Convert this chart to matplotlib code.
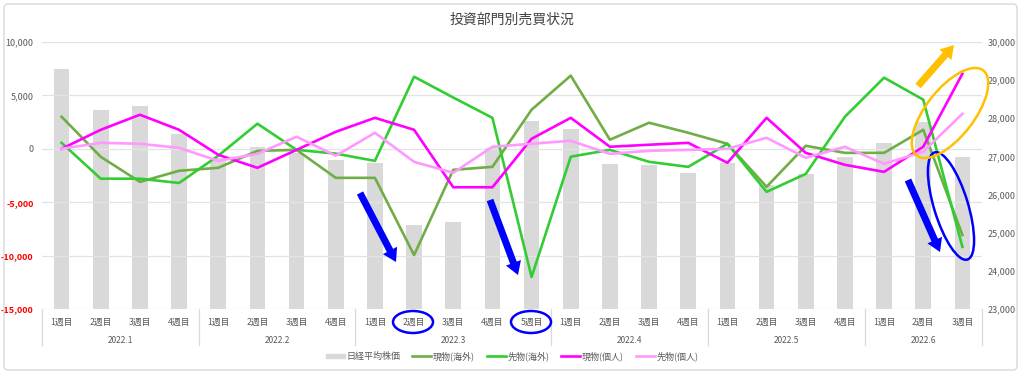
import matplotlib
matplotlib.use('Agg')
import matplotlib.pyplot as plt
from matplotlib.patches import Ellipse, FancyArrow, FancyBboxPatch, Patch
from matplotlib.transforms import Affine2D, blended_transform_factory

plt.rcParams['font.family'] = ['Noto Sans CJK JP', 'DejaVu Sans']

# --- data ---
months = ['2022.1', '2022.2', '2022.3', '2022.4', '2022.5', '2022.6']
weeks_per_month = [4, 4, 5, 4, 4, 3]
week_labels = [str(w) + '週目' for n in weeks_per_month for w in range(1, n + 1)]

nikkei = [29290, 28220, 28320, 27590, 26950, 27250, 27090, 26900, 26820, 25200,
          25280, 27220, 27930, 27720, 26800, 26770, 26560, 26820, 26250, 26530,
          26980, 27350, 27900, 26980]
genbutsu_kaigai = [3000, -750, -3100, -2060, -1780, -190, -100, -2720, -2720, -9950,
                   -1970, -1690, 3660, 6850, 850, 2440, 1500, 470, -3560, 280,
                   -380, -380, 1780, -8070]
sakimono_kaigai = [560, -2800, -2800, -3200, -650, 2350, -100, -450, -1130, 6750,
                   4800, 2900, -12000, -740, -100, -1220, -1690, 470, -4030, -2350,
                   3000, 6660, 4600, -9190]
genbutsu_kojin = [0, 1780, 3190, 1780, -560, -1780, -100, 1590, 2900, 1780,
                  -3600, -3600, 940, 2900, 190, 380, 560, -1310, 2900, -380,
                  -1500, -2160, 190, 7030]
sakimono_kojin = [0, 560, 470, 90, -1130, -470, 1130, -650, 1500, -1220,
                  -2250, 190, 470, 750, -470, -190, -100, 0, 1030, -840,
                  190, -1410, -280, 3280]

left_ticks = [-15000, -10000, -5000, 0, 5000, 10000]
right_ticks = [23000, 24000, 25000, 26000, 27000, 28000, 29000, 30000]

W, H = 1024, 376
fig = plt.figure(figsize=(W / 100, H / 100), dpi=100)
fig.patch.set_facecolor('white')

# pixel helper (top-left origin) for the hand drawn marks
pix = Affine2D().scale(1 / W, 1 / H) + fig.transFigure
def P(x, y):
    return (x, H - y)

# outer chart border
fig.patches.append(FancyBboxPatch(P(4, 370), 1013, 366, boxstyle='round,pad=0,rounding_size=4',
                                  transform=pix, fill=False, ec='#D9D9D9', lw=1.0))

ax_bar = fig.add_axes([42 / W, 1 - 309 / H, 940 / W, 267 / H])
ax = ax_bar.twinx()

x = list(range(len(week_labels)))
gray_txt = '#595959'

ax_bar.bar(x, nikkei, width=0.4, color='#D9D9D9', bottom=0)
ax_bar.set_ylim(23000, 30000)
ax_bar.set_yticks(right_ticks)
ax_bar.set_yticklabels(['{:,}'.format(v) for v in right_ticks])
ax_bar.yaxis.tick_right()
ax_bar.tick_params(axis='y', length=0, pad=4, labelsize=6.5, labelcolor=gray_txt)

ax.plot(x, genbutsu_kaigai, color='#70AD47', lw=1.9, label='現物(海外)')
ax.plot(x, sakimono_kaigai, color='#33CC33', lw=1.9, label='先物(海外)')
ax.plot(x, genbutsu_kojin, color='#FF00FF', lw=1.9, label='現物(個人)')
ax.plot(x, sakimono_kojin, color='#FF99FF', lw=1.9, label='先物(個人)')
ax.set_ylim(-15000, 10000)
ax.set_yticks(left_ticks)
ax.set_yticklabels(['{:,}'.format(v) for v in left_ticks])
ax.yaxis.tick_left()
ax.tick_params(axis='y', length=0, pad=6, labelsize=6.5)
for lab, v in zip(ax.get_yticklabels(), left_ticks):
    lab.set_color('#FF0000' if v < 0 else gray_txt)
    if v < 0:
        lab.set_fontweight('bold')
ax.grid(axis='y', color='#E3E3E3', lw=0.9)
ax.set_axisbelow(True)

for a in (ax, ax_bar):
    a.set_xlim(-0.5, len(x) - 0.5)
    a.set_xticks([])
    for s in a.spines.values():
        s.set_visible(False)

# two level category axis
tr = blended_transform_factory(ax.transData, ax.transAxes)
for i, lab in enumerate(week_labels):
    ax.text(i, -0.05, lab, transform=tr, ha='center', va='center', fontsize=6.3, color=gray_txt)
start = 0
bounds = [-0.5]
for m, n in zip(months, weeks_per_month):
    ax.text(start + (n - 1) / 2, -0.118, m, transform=tr, ha='center', va='center',
            fontsize=6, color=gray_txt)
    start += n
    bounds.append(start - 0.5)
for b in bounds:
    ax.plot([b, b], [0, -0.135], transform=tr, color='#D9D9D9', lw=0.9, clip_on=False)

fig.text(0.5, 1 - 20 / H, '投資部門別売買状況', ha='center', va='center', fontsize=10, color='#404040')

handles = [Patch(color='#D9D9D9', label='日経平均株価')] + ax.get_lines()[:4]
leg = fig.legend(handles, ['日経平均株価', '現物(海外)', '先物(海外)', '現物(個人)', '先物(個人)'],
                 loc='center', bbox_to_anchor=(0.5, 1 - 356 / H), ncol=5, frameon=False,
                 fontsize=6.5, handlelength=2.1, handleheight=0.3, columnspacing=1.3,
                 handletextpad=0.2)
for t in leg.get_texts():
    t.set_color(gray_txt)

# hand drawn emphasis marks
blue = '#0000FF'
yellow = '#FFC000'
arrows = [((360, 193), (396, 262), blue), ((490, 200), (518, 275), blue),
          ((908, 180), (940, 252), blue), ((918, 86), (954, 45), yellow)]
for (x0, y0), (x1, y1), c in arrows:
    p0, p1 = P(x0, y0), P(x1, y1)
    fig.patches.append(FancyArrow(p0[0], p0[1], p1[0] - p0[0], p1[1] - p0[1], width=7,
                                  head_width=16, head_length=13, length_includes_head=True,
                                  transform=pix, color=c, lw=0))
ellipses = [((413, 322), 40, 22, 0, blue), ((531, 322), 40, 22, 0, blue),
            ((951, 206), 112, 34, -73, blue), ((950, 113), 108, 48, 52, yellow)]
for (cx, cy), w, h, ang, c in ellipses:
    fig.patches.append(Ellipse(P(cx, cy), w, h, angle=ang, transform=pix, fill=False,
                               ec=c, lw=1.8))

fig.savefig('out.png', dpi=100)
